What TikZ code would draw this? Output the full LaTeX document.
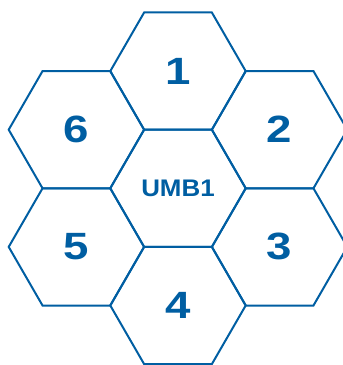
\documentclass[tikz,border=0pt]{standalone}
\usepackage{fontspec}
\setmainfont{Liberation Sans}
\newfontfamily\cellfont[FakeStretch=1.2]{Liberation Sans}
\newfontfamily\hubfont[FakeStretch=1.08]{Liberation Sans}
\usetikzlibrary{shapes.geometric}

\definecolor{hexblue}{RGB}{0,94,162}

\begin{document}
\begin{tikzpicture}[
    x=1pt, y=1pt,
    hexcell/.style={regular polygon, regular polygon sides=6, draw=hexblue, line width=2pt,
        minimum size=135.4pt, inner sep=0pt, outer sep=0pt, text=hexblue,
        font=\cellfont\bfseries\fontsize{38}{38}\selectfont},
    hubcell/.style={hexcell, font=\hubfont\bfseries\fontsize{24}{24}\selectfont}
]
    \useasboundingbox (0,0) rectangle (343,365);

    \node[hubcell] (umb) at (178,176.7) {UMB1};
    \node[hexcell] (c1) at (178,293.9) {1};
    \node[hexcell] (c2) at (279.6,235.3) {2};
    \node[hexcell] (c3) at (279.6,118.1) {3};
    \node[hexcell] (c4) at (178,59.5) {4};
    \node[hexcell] (c5) at (76.4,118.1) {5};
    \node[hexcell] (c6) at (76.4,235.3) {6};
\end{tikzpicture}
\end{document}
